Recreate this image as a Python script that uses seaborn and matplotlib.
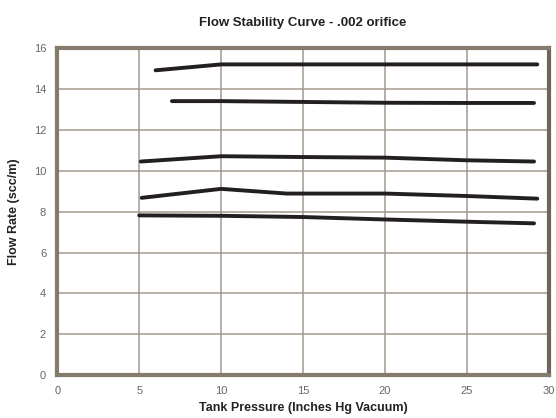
import numpy as np
import pandas as pd
import matplotlib
matplotlib.use("Agg")
import matplotlib.pyplot as plt
import seaborn as sns

sns.set_style("white")
plt.rcParams["font.family"] = ["Liberation Sans", "DejaVu Sans"]

# Tank pressure (inches Hg vacuum) and flow rate (scc/m) per curve
curve_a_x = [6.0, 10, 15, 20, 25, 29.3]
curve_a_y = [14.93, 15.22, 15.22, 15.22, 15.22, 15.22]
curve_b_x = [7.0, 10, 15, 20, 25, 29.1]
curve_b_y = [13.42, 13.42, 13.38, 13.34, 13.33, 13.33]
curve_c_x = [5.1, 10, 15, 20, 25, 29.1]
curve_c_y = [10.46, 10.72, 10.68, 10.65, 10.52, 10.46]
curve_d_x = [5.15, 10, 14.0, 20, 25, 29.3]
curve_d_y = [8.68, 9.12, 8.89, 8.89, 8.77, 8.64]
curve_e_x = [5.0, 10, 15, 20, 25, 29.1]
curve_e_y = [7.82, 7.80, 7.74, 7.62, 7.51, 7.43]

curves = {
    "a": (curve_a_x, curve_a_y),
    "b": (curve_b_x, curve_b_y),
    "c": (curve_c_x, curve_c_y),
    "d": (curve_d_x, curve_d_y),
    "e": (curve_e_x, curve_e_y),
}
df = pd.concat(
    [pd.DataFrame({"pressure": x, "flow": y, "curve": k}) for k, (x, y) in curves.items()],
    ignore_index=True,
)

grid_col = "#a39a8e"
frame_col = "#857a6c"

fig = plt.figure(figsize=(5.56, 4.18), dpi=100)
ax = fig.add_axes([0.103, 0.103, 0.884, 0.781])

sns.lineplot(data=df, x="pressure", y="flow", hue="curve", palette=["#231f20"] * 5,
             linewidth=2.8, sort=False, legend=False, ax=ax, estimator=None)

ax.set_xlim(0, 30)
ax.set_ylim(0, 16)
ax.set_xticks(np.arange(0, 31, 5))
ax.set_yticks(np.arange(0, 17, 2))
ax.grid(True, color=grid_col, linewidth=1.1)
ax.set_axisbelow(True)

for side in ["left", "bottom", "top"]:
    ax.spines[side].set_color(frame_col)
    ax.spines[side].set_linewidth(3)
ax.spines["right"].set_color("#6e665c")
ax.spines["right"].set_linewidth(3)

ax.tick_params(axis="x", length=4, width=1, color=frame_col, labelsize=8,
               labelcolor="#666666", pad=4)
ax.tick_params(axis="y", length=0, labelsize=8, labelcolor="#666666", pad=8)

ax.set_xlabel("Tank Pressure (Inches Hg Vacuum)", fontsize=9, fontweight="bold",
              color="#222222", labelpad=4)
ax.set_ylabel("Flow Rate (scc/m)", fontsize=9, fontweight="bold", color="#222222",
              labelpad=10)
fig.text(0.545, 0.945, "Flow Stability Curve - .002 orifice", ha="center", va="center",
         fontsize=9.5, fontweight="bold", color="#222222")

fig.savefig("out.png", dpi=100)
plt.close()
